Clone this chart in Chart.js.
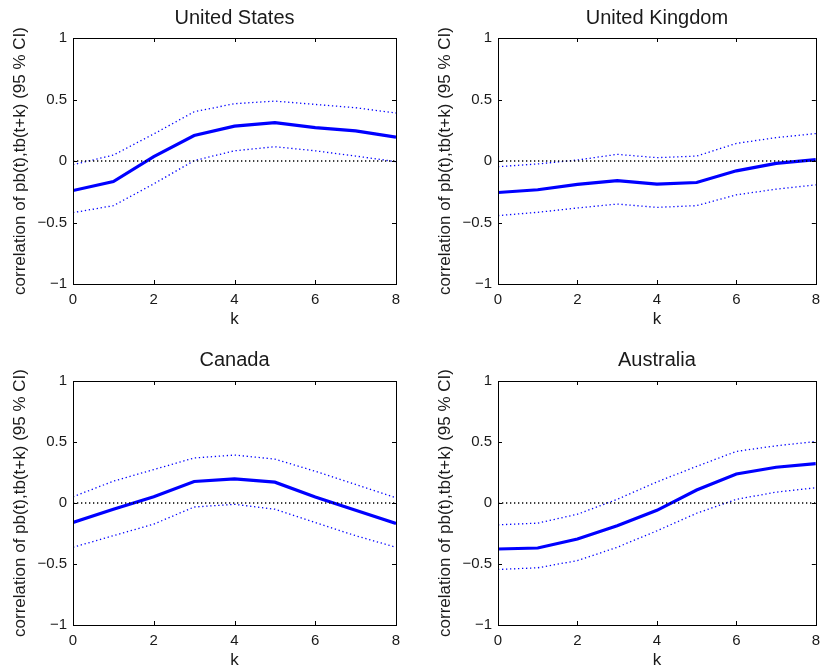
<!DOCTYPE html>
<html>
<head>
<meta charset="utf-8">
<script src="https://cdn.jsdelivr.net/npm/chart.js@4"></script>
<style>
    body { margin: 0; background: #fff; }
    #wrap { position: relative; width: 827px; height: 670px; background: #fff; }
    canvas { position: absolute; }
</style>
</head>
<body>
<div id="wrap">
    <canvas id="chartUS" width="413" height="328" style="left:0;top:0"></canvas>
    <canvas id="chartUK" width="414" height="328" style="left:413px;top:0"></canvas>
    <canvas id="chartCA" width="413" height="328" style="left:0;top:342px"></canvas>
    <canvas id="chartAU" width="414" height="328" style="left:413px;top:342px"></canvas>
</div>
<script>
// lags k
const kValues = [0, 1, 2, 3, 4, 5, 6, 7, 8];
const zeroLine = [0, 0, 0, 0, 0, 0, 0, 0, 0];
const xTicks = [0, 2, 4, 6, 8];
const yTicks = [-1, -0.5, 0, 0.5, 1];

// correlation of pb(t), tb(t+k) and 95% bands
const usCorr  = [-0.24, -0.167, 0.035, 0.207, 0.283, 0.312, 0.272, 0.245, 0.194];
const usUpper = [-0.03, 0.048, 0.22, 0.40, 0.466, 0.487, 0.46, 0.433, 0.39];
const usLower = [-0.42, -0.363, -0.186, 0.003, 0.083, 0.116, 0.083, 0.04, -0.005];

const ukCorr  = [-0.256, -0.234, -0.19, -0.159, -0.188, -0.175, -0.08, -0.019, 0.011];
const ukUpper = [-0.046, -0.024, 0.008, 0.054, 0.027, 0.04, 0.143, 0.19, 0.223];
const ukLower = [-0.444, -0.417, -0.382, -0.35, -0.377, -0.363, -0.275, -0.229, -0.194];

const caCorr  = [-0.16, -0.051, 0.051, 0.176, 0.198, 0.171, 0.049, -0.06, -0.168];
const caUpper = [0.051, 0.179, 0.274, 0.369, 0.393, 0.36, 0.26, 0.152, 0.043];
const caLower = [-0.363, -0.268, -0.173, -0.033, -0.011, -0.051, -0.16, -0.268, -0.363];

const auCorr  = [-0.377, -0.369, -0.295, -0.187, -0.06, 0.106, 0.238, 0.293, 0.322];
const auUpper = [-0.179, -0.165, -0.092, 0.03, 0.173, 0.30, 0.423, 0.469, 0.504];
const auLower = [-0.545, -0.531, -0.472, -0.363, -0.228, -0.084, 0.03, 0.089, 0.125];

const yLabel = 'correlation of pb(t),tb(t+k) (95 % CI)';
const fontFamily = '"Liberation Sans", Arial, Helvetica, sans-serif';
const textColor = '#1a1a1a';

// matlab style box with inward ticks
const boxPlugin = {
    id: 'matlabBox',
    afterDatasetsDraw(chart) {
        const { ctx, chartArea: a, scales } = chart;
        const len = 4;
        ctx.save();
        ctx.strokeStyle = '#000';
        ctx.lineWidth = 1;
        ctx.beginPath();
        scales.x.ticks.forEach(t => {
            const px = Math.round(scales.x.getPixelForValue(t.value)) + 0.5;
            ctx.moveTo(px, a.bottom); ctx.lineTo(px, a.bottom - len);
            ctx.moveTo(px, a.top); ctx.lineTo(px, a.top + len);
        });
        scales.y.ticks.forEach(t => {
            const py = Math.round(scales.y.getPixelForValue(t.value)) + 0.5;
            ctx.moveTo(a.left, py); ctx.lineTo(a.left + len, py);
            ctx.moveTo(a.right, py); ctx.lineTo(a.right - len, py);
        });
        ctx.stroke();
        ctx.strokeRect(Math.round(a.left) + 0.5, Math.round(a.top) + 0.5,
            Math.round(a.right - a.left), Math.round(a.bottom - a.top));
        ctx.restore();
    }
};

function toPoints(values) {
    return kValues.map((k, i) => ({ x: k, y: values[i] }));
}

function makePanel(id, title, corr, upper, lower, box) {
    const ctx = document.getElementById(id).getContext('2d');
    const canvasH = 328;
    return new Chart(ctx, {
        type: 'line',
        data: {
            datasets: [
                { data: toPoints(zeroLine), borderColor: '#000', borderWidth: 1.3, borderDash: [1.3, 2.7] },
                { data: toPoints(upper), borderColor: '#0000ff', borderWidth: 1.3, borderDash: [1.3, 2.7] },
                { data: toPoints(lower), borderColor: '#0000ff', borderWidth: 1.3, borderDash: [1.3, 2.7] },
                { data: toPoints(corr), borderColor: '#0000ff', borderWidth: 3.2 }
            ]
        },
        options: {
            responsive: false,
            animation: false,
            layout: { padding: { left: 0, right: box.right, top: 0, bottom: 0 } },
            elements: { point: { radius: 0 }, line: { tension: 0 } },
            plugins: {
                legend: { display: false },
                tooltip: { enabled: false },
                title: {
                    display: true,
                    text: title,
                    fullSize: false,
                    color: textColor,
                    font: { family: fontFamily, size: 20, weight: 'normal', lineHeight: 1.2 },
                    padding: { top: 6, bottom: box.top - 6 - 24 }
                }
            },
            scales: {
                x: {
                    type: 'linear',
                    min: 0,
                    max: 8,
                    afterBuildTicks: s => { s.ticks = xTicks.map(v => ({ value: v })); },
                    afterFit: s => { s.height = canvasH - box.bottom; },
                    grid: { display: false, drawTicks: false },
                    border: { display: false },
                    ticks: { color: textColor, padding: 7, autoSkip: false, maxRotation: 0,
                        font: { family: fontFamily, size: 15 } },
                    title: { display: true, text: 'k', color: textColor,
                        font: { family: fontFamily, size: 17, lineHeight: 1 },
                        padding: { top: 0, bottom: canvasH - box.bottom - 35 - 8.5 } }
                },
                y: {
                    type: 'linear',
                    min: -1,
                    max: 1,
                    afterBuildTicks: s => { s.ticks = yTicks.map(v => ({ value: v })); },
                    afterFit: s => { s.width = box.left; },
                    grid: { display: false, drawTicks: false },
                    border: { display: false },
                    ticks: { color: textColor, padding: 6, autoSkip: false,
                        font: { family: fontFamily, size: 15 },
                        callback: v => String(v).replace('-', '\u2212') },
                    title: { display: true, text: yLabel, color: textColor,
                        font: { family: fontFamily, size: 17, lineHeight: 1 },
                        padding: { top: box.labelX - 8.5, bottom: 0 } }
                }
            }
        },
        plugins: [boxPlugin]
    });
}

makePanel('chartUS', 'United States', usCorr, usUpper, usLower,
    { left: 73, right: 17, top: 38, bottom: 284, labelX: 20.5 });
makePanel('chartUK', 'United Kingdom', ukCorr, ukUpper, ukLower,
    { left: 85, right: 7, top: 38, bottom: 284, labelX: 32 });
makePanel('chartCA', 'Canada', caCorr, caUpper, caLower,
    { left: 73, right: 17, top: 39, bottom: 283, labelX: 20.5 });
makePanel('chartAU', 'Australia', auCorr, auUpper, auLower,
    { left: 85, right: 7, top: 39, bottom: 283, labelX: 32 });
</script>
</body>
</html>
